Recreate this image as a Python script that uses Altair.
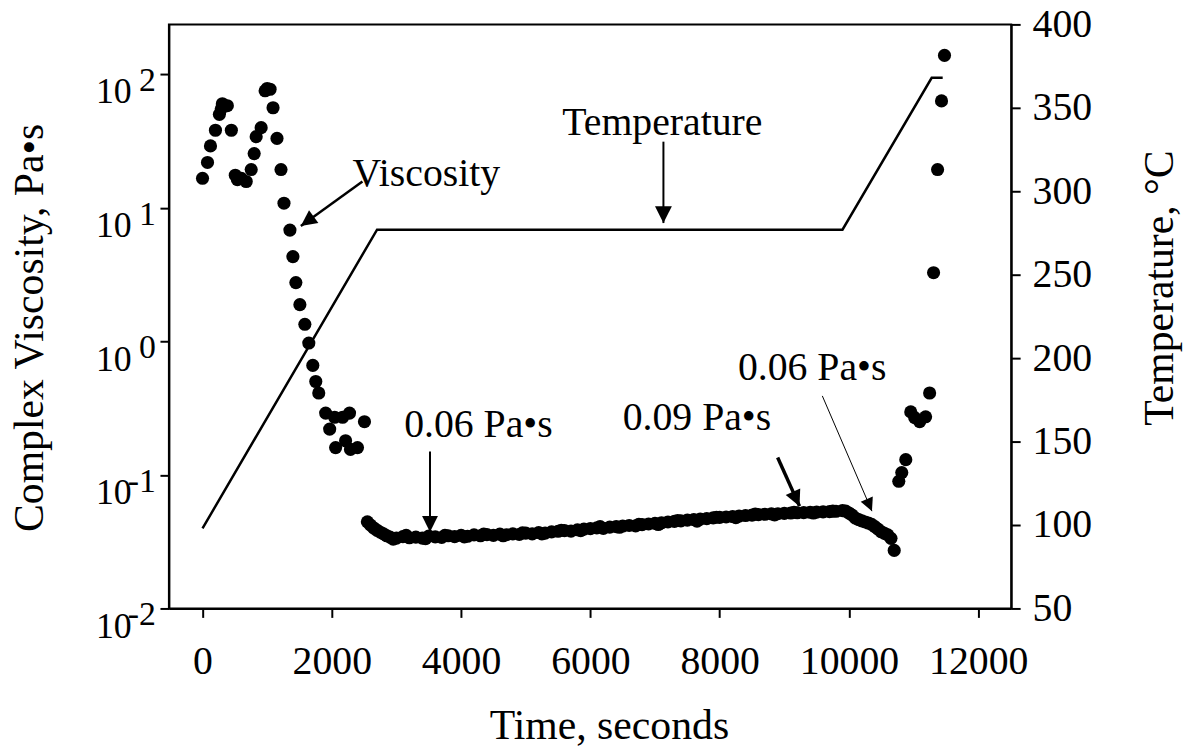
import altair as alt
import pandas as pd

FONT = "'Liberation Serif', 'Times New Roman', Times, 'DejaVu Serif', serif"

# ---------------- data ----------------
# Complex viscosity (Pa*s) vs time (s)
early_t = [0, 77, 123, 200, 261, 290, 307, 384, 446, 507, 540, 600, 676, 753, 799, 830,
           907, 968, 1000, 1045, 1091, 1152, 1214, 1260, 1352, 1398, 1444, 1506, 1583,
           1644, 1706, 1752, 1798, 1905, 1967, 2044, 2059, 2167, 2213, 2274, 2289, 2397, 2505]
early_v = [16.6, 21.8, 29, 38, 50, 55, 60, 58, 38, 17.5, 16.2, 16.6, 15.7, 19.3, 25.4, 34,
           39.7, 75, 78, 77, 56, 33, 19.3, 10.8, 6.8, 4.3, 2.75, 1.88, 1.34,
           0.97, 0.66, 0.50, 0.41, 0.29, 0.22, 0.27, 0.16, 0.27, 0.18, 0.29, 0.155, 0.16, 0.25]

plateau_t = [2550, 2600, 2650, 2700, 2750, 2800, 2850, 2900, 3000, 3100, 3200, 3300, 3400,
             3500, 3600, 3700, 3800, 3900, 4000, 4100, 4200, 4300, 4400, 4500, 4600, 4700,
             4800, 4900, 5000, 5100, 5200, 5300, 5400, 5500, 5600, 5700, 5800, 5900, 6000,
             6100, 6200, 6300, 6400, 6500, 6600, 6700, 6800, 6900, 7000, 7100, 7200, 7300,
             7400, 7500, 7600, 7700, 7800, 7900, 8000, 8100, 8200, 8300, 8400, 8500, 8600,
             8700, 8800, 8900, 9000, 9100, 9200, 9300, 9400, 9500, 9600, 9700, 9800, 9900,
             9950, 10000, 10050, 10100, 10150, 10200, 10250, 10300, 10350, 10400, 10450,
             10500, 10550, 10600, 10650, 10700]
plateau_v = [0.0445, 0.0420, 0.0400, 0.0385, 0.0372, 0.0362, 0.0350, 0.0342, 0.0336, 0.0345,
             0.0338, 0.0342, 0.0336, 0.0348, 0.0343, 0.0340, 0.0350, 0.0345, 0.0352, 0.0347,
             0.0355, 0.0350, 0.0357, 0.0352, 0.0360, 0.0356, 0.0362, 0.0358, 0.0366, 0.0362,
             0.0370, 0.0366, 0.0374, 0.0378, 0.0382, 0.0379, 0.0388, 0.0392, 0.0396, 0.0401,
             0.0398, 0.0406, 0.0410, 0.0414, 0.0418, 0.0415, 0.0424, 0.0429, 0.0434, 0.0438,
             0.0444, 0.0448, 0.0452, 0.0458, 0.0462, 0.0466, 0.0470, 0.0476, 0.0480, 0.0484,
             0.0488, 0.0492, 0.0496, 0.0500, 0.0504, 0.0507, 0.0510, 0.0512, 0.0515, 0.0518,
             0.0520, 0.0522, 0.0525, 0.0526, 0.0528, 0.0530, 0.0534, 0.0540,
             0.0536, 0.0518, 0.0500, 0.0475, 0.0462, 0.0452, 0.0444, 0.0436, 0.0426, 0.0410,
             0.0392, 0.0375, 0.0365, 0.0355, 0.0335, 0.0272]

# a second, slightly scattered pass over the plateau (the band in the picture is ragged)
scatter_t = [2950, 3150, 3450, 3750, 4050, 4350, 4650, 4950, 5250, 5550, 5850, 6150, 6450,
             6750, 7050, 7350, 7650, 7950, 8250, 8550, 8850, 9150, 9450, 9750]
scatter_v = [0.0330, 0.0352, 0.0333, 0.0352, 0.0343, 0.0360, 0.0350, 0.0368, 0.0362, 0.0385,
             0.0382, 0.0410, 0.0405, 0.0426, 0.0425, 0.0455, 0.0450, 0.0482, 0.0478, 0.0508,
             0.0502, 0.0525, 0.0518, 0.0535]

late_t = [10771, 10817, 10879, 10956, 11017, 11094, 11186, 11248, 11309, 11371, 11432, 11478]
late_v = [0.0895, 0.104, 0.130, 0.296, 0.268, 0.25, 0.272, 0.41, 3.26, 19.3, 63, 138]

# Temperature programme (deg C) vs time (s)
temp_t = [0, 2700, 9900, 11280, 11450]
temp_T = [98, 277, 277, 368, 368]

# Axis ticks
x_ticks = [0, 2000, 4000, 6000, 8000, 10000, 12000]
v_ticks = [0.01, 0.1, 1, 10, 100]
v_exps = ["-2", "-1", "0", "1", "2"]
T_ticks = [50, 100, 150, 200, 250, 300, 350, 400]

# Annotations (data coordinates: time, viscosity)
lab_left_text = ["Viscosity", "0.06 Pa•s", "0.09 Pa•s", "0.06 Pa•s"]
lab_left_t = [2320, 3119, 6500, 8282]
lab_left_v = [14.45, 0.193, 0.218, 0.513]
lab_center_text = ["Temperature"]
lab_center_t = [7114]
lab_center_v = [35.2]

arr_t0 = [7130, 2474, 3519, 8897, 9588]
arr_v0 = [31.2, 15.7, 0.1495, 0.1349, 0.390]
arr_t1 = [7130, 1521, 3519, 9235, 10356]
arr_v1 = [7.67, 7.29, 0.0374, 0.0583, 0.0535]
arr_angle = [180, 234, 180, 155.8, 156.7]
arr_width = [2, 2.5, 2, 3.5, 1]
arr_head = [1156, 1024, 1024, 1024, 700]

# ---------------- tables ----------------
visc = pd.DataFrame({"t": early_t + plateau_t + scatter_t + late_t,
                     "v": early_v + plateau_v + scatter_v + late_v})
temp = pd.DataFrame({"t": temp_t, "T": temp_T})
exps = pd.DataFrame({"v": v_ticks, "label": v_exps})
lab_left = pd.DataFrame({"t": lab_left_t, "v": lab_left_v, "label": lab_left_text})
lab_center = pd.DataFrame({"t": lab_center_t, "v": lab_center_v, "label": lab_center_text})
arrows = pd.DataFrame({"t": arr_t0, "v": arr_v0, "t2": arr_t1, "v2": arr_v1,
                       "ang": arr_angle, "sw": arr_width, "hs": arr_head})

X_DOMAIN = [-520, 12510]
V_DOMAIN = [0.01, 235.5]
T_DOMAIN = [50, 400]

x_enc = alt.X("t:Q",
              scale=alt.Scale(domain=X_DOMAIN, nice=False, zero=False),
              axis=alt.Axis(values=x_ticks, title="Time, seconds", format="d",
                            labelPadding=25, titleX=443, titleY=131,
                            titleBaseline="alphabetic"))
v_enc = alt.Y("v:Q",
              scale=alt.Scale(type="log", domain=V_DOMAIN, nice=False),
              axis=alt.Axis(values=v_ticks, labelExpr="'10'", labelFontSize=36,
                            labelPadding=29, labelOffset=18, labelBaseline="middle",
                            title="Complex Viscosity, Pa•s", titleAngle=270,
                            titleX=-127, titleY=305, titleBaseline="alphabetic",
                            titleAlign="center", orient="left"))

points = alt.Chart(visc).mark_circle(size=175, color="black", opacity=1).encode(x=x_enc, y=v_enc)

rules = alt.Chart(arrows).mark_rule(color="black").encode(
    x=x_enc, y=v_enc, x2="t2:Q", y2="v2:Q",
    strokeWidth=alt.StrokeWidth("sw:Q", scale=None))

heads = alt.Chart(arrows).mark_point(
    shape="M0,0 L-0.5,1 L0.5,1 Z", filled=True, color="black", opacity=1
).encode(
    x=alt.X("t2:Q", scale=alt.Scale(domain=X_DOMAIN, nice=False, zero=False)),
    y=alt.Y("v2:Q", scale=alt.Scale(type="log", domain=V_DOMAIN, nice=False)),
    angle=alt.Angle("ang:Q", scale=None),
    size=alt.Size("hs:Q", scale=None))

texts_left = alt.Chart(lab_left).mark_text(
    font=FONT, fontSize=40, align="left", baseline="alphabetic", color="black"
).encode(x=x_enc, y=v_enc, text="label:N")

texts_center = alt.Chart(lab_center).mark_text(
    font=FONT, fontSize=40, align="center", baseline="alphabetic", color="black"
).encode(x=x_enc, y=v_enc, text="label:N")

exponents = alt.Chart(exps).mark_text(
    font=FONT, fontSize=34, align="right", baseline="middle", color="black", dy=7
).encode(x=alt.value(-13), y=v_enc, text="label:N")

left_layer = alt.layer(points, rules, heads, texts_left, texts_center, exponents)

temp_line = alt.Chart(temp).mark_line(color="black", strokeWidth=2.5).encode(
    x=x_enc,
    y=alt.Y("T:Q",
            scale=alt.Scale(domain=T_DOMAIN, nice=False, zero=False),
            axis=alt.Axis(orient="right", values=T_ticks, labelPadding=12,
                          title="Temperature, °C", titleAngle=270, titleX=162,
                          titleY=265, titleBaseline="alphabetic", titleAlign="center")))

chart = alt.layer(left_layer, temp_line).resolve_scale(y="independent").properties(
    width=848, height=588,
    padding={"left": 162, "top": 14, "right": 179, "bottom": 140},
    autosize=alt.AutoSizeParams(type="none"),
    background="white",
).configure_view(
    stroke="black", strokeWidth=2
).configure_axis(
    domainColor="black", domainWidth=2, tickColor="black", tickWidth=2, tickSize=9,
    labelColor="black", titleColor="black", labelFont=FONT, titleFont=FONT,
    labelFontSize=40, titleFontSize=42, titleFontWeight="normal", grid=False,
)

chart.save("out.html", embed_options={"renderer": "svg", "actions": False})
